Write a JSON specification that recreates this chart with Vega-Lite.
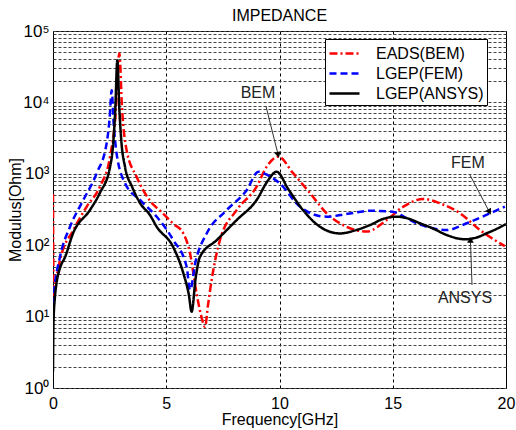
{
  "$schema": "https://vega.github.io/schema/vega-lite/v6.json",
  "width": 453,
  "height": 357,
  "autosize": "none",
  "padding": {"left": 53, "top": 31, "right": 10, "bottom": 42},
  "background": "white",
  "config": {
    "font": "Liberation Sans",
    "view": {"stroke": "black", "strokeWidth": 1}
  },
  "title": {"text": "IMPEDANCE", "fontSize": 16, "fontWeight": "normal", "font": "Liberation Sans", "color": "black", "offset": -2},
  "datasets": {
    "curves": [
      {"f": 0, "v": 520, "s": "EADS(BEM)"},
      {"f": 0.03, "v": 20, "s": "EADS(BEM)"},
      {"f": 0.1, "v": 28, "s": "EADS(BEM)"},
      {"f": 0.31, "v": 62, "s": "EADS(BEM)"},
      {"f": 0.9, "v": 163, "s": "EADS(BEM)"},
      {"f": 1.49, "v": 347, "s": "EADS(BEM)"},
      {"f": 2.07, "v": 660, "s": "EADS(BEM)"},
      {"f": 2.52, "v": 1740, "s": "EADS(BEM)"},
      {"f": 2.75, "v": 6000, "s": "EADS(BEM)"},
      {"f": 2.93, "v": 48500, "s": "EADS(BEM)"},
      {"f": 3.05, "v": 8000, "s": "EADS(BEM)"},
      {"f": 3.25, "v": 2140, "s": "EADS(BEM)"},
      {"f": 3.69, "v": 910, "s": "EADS(BEM)"},
      {"f": 4.28, "v": 420, "s": "EADS(BEM)"},
      {"f": 4.8, "v": 290, "s": "EADS(BEM)"},
      {"f": 5.31, "v": 200, "s": "EADS(BEM)"},
      {"f": 5.75, "v": 147, "s": "EADS(BEM)"},
      {"f": 6.05, "v": 77, "s": "EADS(BEM)"},
      {"f": 6.34, "v": 21, "s": "EADS(BEM)"},
      {"f": 6.55, "v": 10, "s": "EADS(BEM)"},
      {"f": 6.71, "v": 7.2, "s": "EADS(BEM)"},
      {"f": 6.85, "v": 15, "s": "EADS(BEM)"},
      {"f": 7.0, "v": 32, "s": "EADS(BEM)"},
      {"f": 7.37, "v": 118, "s": "EADS(BEM)"},
      {"f": 8.11, "v": 310, "s": "EADS(BEM)"},
      {"f": 8.99, "v": 660, "s": "EADS(BEM)"},
      {"f": 9.43, "v": 1250, "s": "EADS(BEM)"},
      {"f": 9.95, "v": 1740, "s": "EADS(BEM)"},
      {"f": 10.6, "v": 1020, "s": "EADS(BEM)"},
      {"f": 11.35, "v": 535, "s": "EADS(BEM)"},
      {"f": 12.08, "v": 280, "s": "EADS(BEM)"},
      {"f": 12.97, "v": 181, "s": "EADS(BEM)"},
      {"f": 13.85, "v": 155, "s": "EADS(BEM)"},
      {"f": 14.73, "v": 225, "s": "EADS(BEM)"},
      {"f": 15.47, "v": 347, "s": "EADS(BEM)"},
      {"f": 16.35, "v": 445, "s": "EADS(BEM)"},
      {"f": 17.09, "v": 385, "s": "EADS(BEM)"},
      {"f": 17.97, "v": 280, "s": "EADS(BEM)"},
      {"f": 18.85, "v": 163, "s": "EADS(BEM)"},
      {"f": 19.95, "v": 97, "s": "EADS(BEM)"},

      {"f": 0, "v": 15, "s": "LGEP(FEM)"},
      {"f": 0.04, "v": 21, "s": "LGEP(FEM)"},
      {"f": 0.31, "v": 69, "s": "LGEP(FEM)"},
      {"f": 0.75, "v": 181, "s": "LGEP(FEM)"},
      {"f": 1.34, "v": 430, "s": "LGEP(FEM)"},
      {"f": 1.93, "v": 1020, "s": "LGEP(FEM)"},
      {"f": 2.37, "v": 2700, "s": "LGEP(FEM)"},
      {"f": 2.5, "v": 6000, "s": "LGEP(FEM)"},
      {"f": 2.59, "v": 14800, "s": "LGEP(FEM)"},
      {"f": 2.68, "v": 5000, "s": "LGEP(FEM)"},
      {"f": 2.8, "v": 2000, "s": "LGEP(FEM)"},
      {"f": 3.18, "v": 740, "s": "LGEP(FEM)"},
      {"f": 3.84, "v": 430, "s": "LGEP(FEM)"},
      {"f": 4.58, "v": 250, "s": "LGEP(FEM)"},
      {"f": 5.31, "v": 118, "s": "LGEP(FEM)"},
      {"f": 5.9, "v": 50, "s": "LGEP(FEM)"},
      {"f": 6.05, "v": 23.6, "s": "LGEP(FEM)"},
      {"f": 6.3, "v": 60, "s": "LGEP(FEM)"},
      {"f": 6.79, "v": 147, "s": "LGEP(FEM)"},
      {"f": 7.67, "v": 310, "s": "LGEP(FEM)"},
      {"f": 8.55, "v": 590, "s": "LGEP(FEM)"},
      {"f": 9.07, "v": 1070, "s": "LGEP(FEM)"},
      {"f": 9.5, "v": 950, "s": "LGEP(FEM)"},
      {"f": 10.0, "v": 740, "s": "LGEP(FEM)"},
      {"f": 10.9, "v": 347, "s": "LGEP(FEM)"},
      {"f": 11.5, "v": 270, "s": "LGEP(FEM)"},
      {"f": 12.08, "v": 251, "s": "LGEP(FEM)"},
      {"f": 13.0, "v": 275, "s": "LGEP(FEM)"},
      {"f": 14.0, "v": 303, "s": "LGEP(FEM)"},
      {"f": 15.0, "v": 295, "s": "LGEP(FEM)"},
      {"f": 15.5, "v": 250, "s": "LGEP(FEM)"},
      {"f": 16.05, "v": 203, "s": "LGEP(FEM)"},
      {"f": 16.7, "v": 175, "s": "LGEP(FEM)"},
      {"f": 17.38, "v": 163, "s": "LGEP(FEM)"},
      {"f": 18.27, "v": 203, "s": "LGEP(FEM)"},
      {"f": 19.3, "v": 280, "s": "LGEP(FEM)"},
      {"f": 19.95, "v": 347, "s": "LGEP(FEM)"},

      {"f": 0, "v": 1.7, "s": "LGEP(ANSYS)"},
      {"f": 0.02, "v": 8, "s": "LGEP(ANSYS)"},
      {"f": 0.08, "v": 18, "s": "LGEP(ANSYS)"},
      {"f": 0.16, "v": 30, "s": "LGEP(ANSYS)"},
      {"f": 0.3, "v": 47, "s": "LGEP(ANSYS)"},
      {"f": 0.53, "v": 68, "s": "LGEP(ANSYS)"},
      {"f": 0.89, "v": 148, "s": "LGEP(ANSYS)"},
      {"f": 1.63, "v": 310, "s": "LGEP(ANSYS)"},
      {"f": 2.07, "v": 540, "s": "LGEP(ANSYS)"},
      {"f": 2.52, "v": 1250, "s": "LGEP(ANSYS)"},
      {"f": 2.65, "v": 2500, "s": "LGEP(ANSYS)"},
      {"f": 2.75, "v": 8000, "s": "LGEP(ANSYS)"},
      {"f": 2.84, "v": 39000, "s": "LGEP(ANSYS)"},
      {"f": 2.93, "v": 8000, "s": "LGEP(ANSYS)"},
      {"f": 3.02, "v": 2800, "s": "LGEP(ANSYS)"},
      {"f": 3.18, "v": 1250, "s": "LGEP(ANSYS)"},
      {"f": 3.5, "v": 650, "s": "LGEP(ANSYS)"},
      {"f": 3.84, "v": 390, "s": "LGEP(ANSYS)"},
      {"f": 4.28, "v": 265, "s": "LGEP(ANSYS)"},
      {"f": 4.58, "v": 181, "s": "LGEP(ANSYS)"},
      {"f": 5.3, "v": 95, "s": "LGEP(ANSYS)"},
      {"f": 5.75, "v": 41, "s": "LGEP(ANSYS)"},
      {"f": 6.0, "v": 20, "s": "LGEP(ANSYS)"},
      {"f": 6.12, "v": 11.7, "s": "LGEP(ANSYS)"},
      {"f": 6.3, "v": 35, "s": "LGEP(ANSYS)"},
      {"f": 6.49, "v": 69, "s": "LGEP(ANSYS)"},
      {"f": 7.23, "v": 118, "s": "LGEP(ANSYS)"},
      {"f": 8.11, "v": 225, "s": "LGEP(ANSYS)"},
      {"f": 8.99, "v": 430, "s": "LGEP(ANSYS)"},
      {"f": 9.5, "v": 815, "s": "LGEP(ANSYS)"},
      {"f": 9.87, "v": 1070, "s": "LGEP(ANSYS)"},
      {"f": 10.4, "v": 600, "s": "LGEP(ANSYS)"},
      {"f": 11.04, "v": 310, "s": "LGEP(ANSYS)"},
      {"f": 11.79, "v": 181, "s": "LGEP(ANSYS)"},
      {"f": 12.67, "v": 146, "s": "LGEP(ANSYS)"},
      {"f": 13.3, "v": 160, "s": "LGEP(ANSYS)"},
      {"f": 14.0, "v": 192, "s": "LGEP(ANSYS)"},
      {"f": 14.6, "v": 235, "s": "LGEP(ANSYS)"},
      {"f": 15.17, "v": 251, "s": "LGEP(ANSYS)"},
      {"f": 15.7, "v": 235, "s": "LGEP(ANSYS)"},
      {"f": 16.2, "v": 203, "s": "LGEP(ANSYS)"},
      {"f": 16.8, "v": 170, "s": "LGEP(ANSYS)"},
      {"f": 17.38, "v": 139, "s": "LGEP(ANSYS)"},
      {"f": 18.19, "v": 121, "s": "LGEP(ANSYS)"},
      {"f": 18.7, "v": 128, "s": "LGEP(ANSYS)"},
      {"f": 19.15, "v": 147, "s": "LGEP(ANSYS)"},
      {"f": 19.6, "v": 170, "s": "LGEP(ANSYS)"},
      {"f": 20, "v": 198, "s": "LGEP(ANSYS)"}
    ],
    "arrows": [
      {"name": "BEM", "f": 9.4, "v": 8900, "f2": 9.93, "v2": 1900, "tf": 9.05, "tv": 13500},
      {"name": "FEM", "f": 18.41, "v": 960, "f2": 19.25, "v2": 300, "tf": 18.32, "tv": 1410},
      {"name": "ANSYS", "f": 18.5, "v": 27.7, "f2": 18.43, "v2": 115, "tf": 18.19, "tv": 18.2}
    ]
  },
  "layer": [
    {
      "data": {"name": "curves"},
      "mark": {"type": "line", "strokeWidth": 2.5, "clip": true, "interpolate": "monotone"},
      "encoding": {
        "x": {
          "field": "f", "type": "quantitative",
          "scale": {"domain": [0, 20], "nice": false, "zero": false},
          "axis": {
            "values": [0, 5, 10, 15, 20],
            "title": "Frequency[GHz]",
            "titleFontSize": 16, "titleFontWeight": "normal", "titleColor": "black", "titlePadding": 0,
            "labelFontSize": 16, "labelColor": "black", "labelPadding": 7,
            "ticks": false, "domain": false,
            "grid": true, "gridColor": "black", "gridDash": [3, 3], "gridWidth": 1, "gridOpacity": 1,
            "labelFlush": false
          }
        },
        "y": {
          "field": "v", "type": "quantitative",
          "scale": {"type": "log", "domain": [1, 100000], "nice": false},
          "axis": {
            "values": [1,2,3,4,5,6,7,8,9,10,20,30,40,50,60,70,80,90,100,200,300,400,500,600,700,800,900,1000,2000,3000,4000,5000,6000,7000,8000,9000,10000,20000,30000,40000,50000,60000,70000,80000,90000,100000],
            "labelExpr": "indexof([1,10,100,1000,10000,100000], datum.value) >= 0 ? '10' + ['⁰','¹','²','³','⁴','⁵'][round(log(datum.value)/LN10)] : ''",
            "labelOverlap": false, "labelFlush": false,
            "title": "Modulus[Ohm]",
            "titleFontSize": 16, "titleFontWeight": "normal", "titleColor": "black", "titlePadding": -1,
            "labelFontSize": 17, "labelColor": "black", "labelPadding": 4,
            "ticks": false, "domain": false,
            "grid": true, "gridColor": "#444", "gridDash": [3, 2], "gridWidth": 1, "gridOpacity": 1
          }
        },
        "color": {
          "field": "s", "type": "nominal",
          "scale": {"domain": ["EADS(BEM)", "LGEP(FEM)", "LGEP(ANSYS)"], "range": ["#ff0000", "#0000ff", "#000000"]},
          "legend": {
            "title": null, "orient": "none", "legendX": 272, "legendY": 8,
            "strokeColor": "black", "fillColor": "white", "padding": 3,
            "symbolType": "M-1.5,0H1.5", "symbolSize": 400, "symbolStrokeWidth": 2.5, "symbolOffset": 5,
            "labelFontSize": 16, "labelColor": "black", "labelFont": "Liberation Sans",
            "labelExpr": "datum.label + '    '",
            "rowPadding": -2, "labelOffset": 20, "cornerRadius": 0
          }
        },
        "strokeDash": {
          "field": "s", "type": "nominal",
          "scale": {"domain": ["EADS(BEM)", "LGEP(FEM)", "LGEP(ANSYS)"], "range": [[8, 3, 2, 3], [7, 4], [1, 0]]},
          "legend": null
        }
      }
    },
    {
      "data": {"name": "arrows"},
      "mark": {"type": "rule", "color": "#333", "strokeWidth": 1},
      "encoding": {
        "x": {"field": "f", "type": "quantitative"},
        "y": {"field": "v", "type": "quantitative"},
        "x2": {"field": "f2"},
        "y2": {"field": "v2"}
      }
    },
    {
      "data": {"name": "arrows"},
      "transform": [{"filter": "datum.name == 'BEM'"}],
      "mark": {"type": "point", "shape": "triangle", "filled": true, "color": "black", "size": 45, "angle": 166, "opacity": 1},
      "encoding": {
        "x": {"field": "f2", "type": "quantitative"},
        "y": {"field": "v2", "type": "quantitative"}
      }
    },
    {
      "data": {"name": "arrows"},
      "transform": [{"filter": "datum.name == 'FEM'"}],
      "mark": {"type": "point", "shape": "triangle", "filled": true, "color": "black", "size": 45, "angle": 152, "opacity": 1},
      "encoding": {
        "x": {"field": "f2", "type": "quantitative"},
        "y": {"field": "v2", "type": "quantitative"}
      }
    },
    {
      "data": {"name": "arrows"},
      "transform": [{"filter": "datum.name == 'ANSYS'"}],
      "mark": {"type": "point", "shape": "triangle", "filled": true, "color": "black", "size": 45, "angle": 0, "opacity": 1},
      "encoding": {
        "x": {"field": "f2", "type": "quantitative"},
        "y": {"field": "v2", "type": "quantitative"}
      }
    },
    {
      "data": {"name": "arrows"},
      "mark": {"type": "text", "fontSize": 16, "font": "Liberation Sans", "color": "#222", "align": "center", "baseline": "middle"},
      "encoding": {
        "x": {"field": "tf", "type": "quantitative"},
        "y": {"field": "tv", "type": "quantitative"},
        "text": {"field": "name"}
      }
    }
  ]
}
